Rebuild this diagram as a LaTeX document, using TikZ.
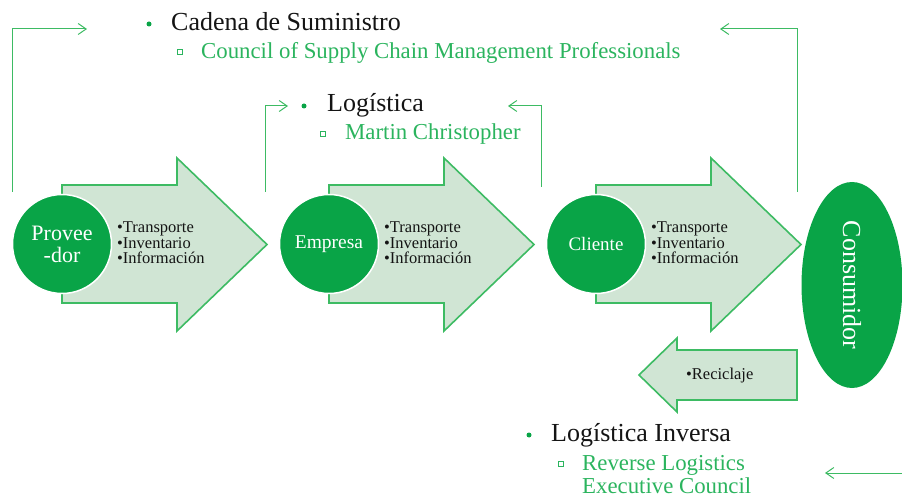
\documentclass[tikz,border=0pt]{standalone}
\usepackage{fontspec}
\setmainfont{Liberation Serif}
\usetikzlibrary{shapes.geometric,arrows.meta}
\definecolor{dkgreen}{HTML}{09A447}
\definecolor{ltgreen}{HTML}{D0E5D4}
\definecolor{edgegreen}{HTML}{3DBB63}
\definecolor{txtgreen}{HTML}{2BB45E}
\definecolor{txtblack}{HTML}{141414}
\begin{document}
\begin{tikzpicture}[x=1pt,y=-1pt,
  bigarrow/.style={fill=ltgreen,draw=edgegreen,line width=1.6pt,line join=miter},
  hub/.style={circle,fill=dkgreen,draw=white,line width=1.5pt,minimum size=99pt,inner sep=0pt,text=white,align=center},
  link/.style={draw=edgegreen,line width=1pt,-{Straight Barb[length=8pt,width=11pt]}},
  item/.style={anchor=base west,inner sep=0pt,text=txtblack,font=\fontsize{16.5}{16}\selectfont},
  head/.style={anchor=base west,inner sep=0pt,text=txtblack,font=\fontsize{26}{28}\selectfont},
  sub/.style={anchor=base west,inner sep=0pt,text=txtgreen,font=\fontsize{22.8}{23}\selectfont},
  dot/.style={circle,fill=dkgreen,inner sep=0pt,minimum size=5pt},
  sq/.style={rectangle,draw=txtgreen,line width=0.8pt,inner sep=0pt,minimum size=5pt}
]
\useasboundingbox (0,0) rectangle (902,497);

% connectors
\coordinate (c1s) at (12,192); \coordinate (c1e) at (87,29);
\coordinate (c2s) at (265,192); \coordinate (c2e) at (288,106);
\coordinate (c3s) at (541,187); \coordinate (c3e) at (508,106);
\coordinate (c4s) at (797,192); \coordinate (c4e) at (720,29);
\coordinate (c5s) at (903,473); \coordinate (c5e) at (825,473);
\draw[link] (c1s) |- (c1e);
\draw[link] (c2s) |- (c2e);
\draw[link] (c3s) |- (c3e);
\draw[link] (c4s) |- (c4e);
\draw[link] (c5s) -- (c5e);

% big arrows
\foreach \dx in {0,267,534}{
  \draw[bigarrow] (62+\dx,185) -- (177+\dx,185) -- (177+\dx,158) -- (267+\dx,244.5)
    -- (177+\dx,331) -- (177+\dx,303) -- (62+\dx,303) -- cycle;
}
% recycle arrow
\draw[bigarrow] (797,350) -- (677,350) -- (677,338) -- (639,375) -- (677,412) -- (677,400) -- (797,400) -- cycle;

% hubs
\node[hub,font=\fontsize{22}{22}\selectfont] (prov) at (62,244) {Provee\\-dor};
\node[hub,font=\fontsize{19.5}{20}\selectfont] (emp) at (329,244) {Empresa};
\node[hub,font=\fontsize{19}{20}\selectfont] (cli) at (596,244) {Cliente};
\node[ellipse,fill=dkgreen,inner sep=0pt,minimum width=101pt,minimum height=206pt] (cons) at (852,285) {};
\node[rotate=-90,text=white,font=\fontsize{26}{26}\selectfont] (consl) at (cons.center) {Consumidor};

% items
\foreach \x/\n in {117/a,384/b,651/c}{
  \node[item] (t\n) at (\x,233) {•Transporte};
  \node[item] (i\n) at (\x,248) {•Inventario};
  \node[item] (f\n) at (\x,263.5) {•Información};
}
\node[item] (rec) at (686,379) {•Reciclaje};

% headings
\node[dot] (d1) at (149,24) {};
\node[head] (h1) at (171,31) {Cadena de Suministro};
\node[sq] (s1) at (180,52) {};
\node[sub] (g1) at (201,59) {Council of Supply Chain Management Professionals};

\node[dot] (d2) at (304,106) {};
\node[head] (h2) at (327,112) {Logística};
\node[sq] (s2) at (323,134) {};
\node[sub] (g2) at (345,140) {Martin Christopher};

\node[dot] (d3) at (529,435) {};
\node[head] (h3) at (551,441) {Logística Inversa};
\node[sq] (s3) at (561,464) {};
\node[sub] (g3) at (582,470) {Reverse Logistics};
\node[sub] (g4) at (582,493) {Executive Council};
\end{tikzpicture}
\end{document}
